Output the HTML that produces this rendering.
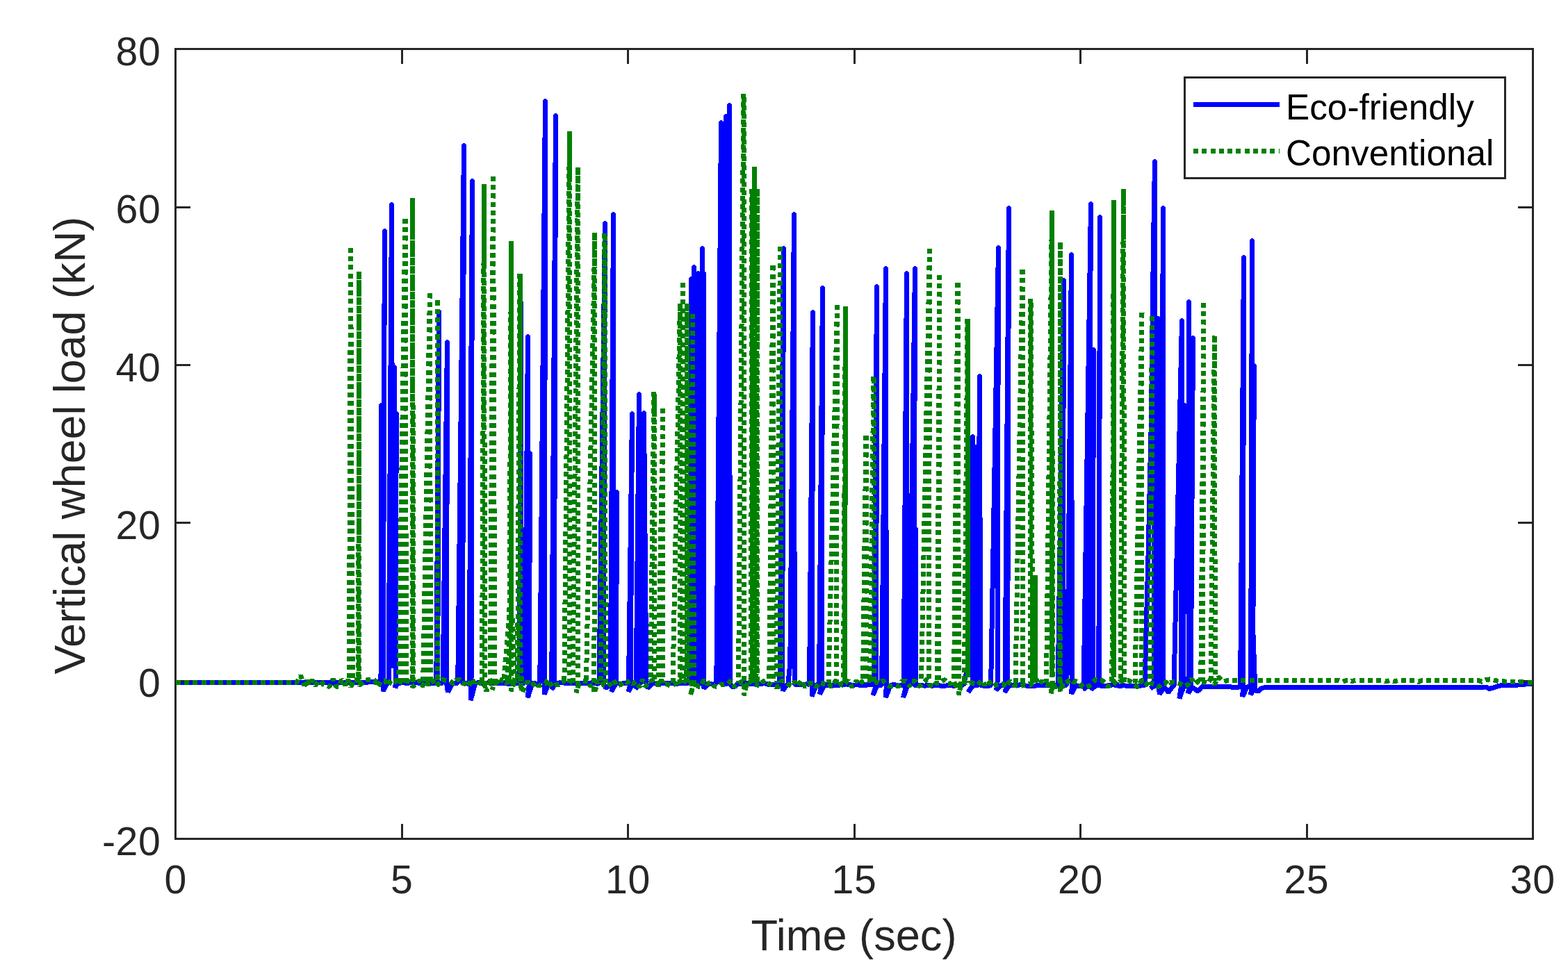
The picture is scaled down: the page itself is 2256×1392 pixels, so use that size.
<!DOCTYPE html>
<html lang="en"><head><meta charset="utf-8"><title>Vertical wheel load</title>
<style>html,body{margin:0;padding:0;background:#fff}body{width:2256px;height:1392px;overflow:hidden}svg{display:block}text{font-family:"Liberation Sans",sans-serif}.t{font-size:57.2px;letter-spacing:0.6px;fill:#262626}.l{font-size:63.2px;fill:#262626}.m{font-size:62.7px;fill:#262626}.g{font-size:51.3px;fill:#000}</style></head><body>
<svg width="2256" height="1392" viewBox="0 0 2256 1392">
<rect width="2256" height="1392" fill="#fff"/>
<defs><clipPath id="c"><rect x="251.4" y="69.2" width="1955.5" height="1139.7"/></clipPath></defs>
<g clip-path="url(#c)" shape-rendering="crispEdges" fill="none" stroke-width="7">
<path stroke="#0000ff" stroke-linejoin="bevel" stroke-linecap="butt" d="M252.9 982.0 L258.9 982.0 L264.3 982.0 L269.0 982.0 L275.6 982.0 L280.0 982.0 L286.1 982.0 L291.7 982.0 L296.1 982.0 L302.1 982.0 L306.4 982.0 L312.2 982.0 L316.6 982.0 L321.2 982.0 L326.9 982.0 L334.1 982.0 L338.7 982.0 L343.7 982.0 L350.2 982.0 L357.8 982.0 L364.1 982.0 L369.7 982.0 L377.4 982.0 L381.8 982.0 L389.1 982.0 L394.3 982.0 L399.0 982.0 L403.7 982.0 L409.0 982.0 L416.1 982.0 L421.0 982.0 L427.3 982.0 L433.8 982.0 L439.3 982.0 L445.5 982.0 L449.9 982.0 L454.3 982.0 L459.2 982.0 L465.9 982.0 L471.6 982.0 L477.0 982.0 L483.3 982.0 L489.1 982.0 L494.4 982.0 L501.4 982.0 L508.2 982.0 L513.2 982.0 L519.5 982.0 L525.6 982.8 L532.4 981.6 L540.2 981.2 L545.9 982.5 L548.0 982.1 L548.5 583.5 L549.0 982.1 L550.5 982.1 L553.5 332.5 L551.2 982.1 L551.2 995.1 L557.7 982.2 L555.5 985.0 L559.1 983.0 L563.5 294.0 L565.0 962.0 L567.0 528.5 L567.6 900.0 L570.2 595.5 L569.4 983.0 L568.5 990.0 L572.0 984.0 L578.0 982.6 L582.3 983.0 L589.3 983.0 L596.6 982.6 L603.3 983.2 L609.6 982.9 L616.9 983.9 L622.8 983.4 L627.8 983.1 L631.5 448.5 L629.7 983.1 L637.1 983.1 L643.5 492.5 L642.5 983.1 L644.3 996.1 L650.8 983.1 L656.8 983.5 L658.4 983.1 L659.1 953.1 L667.5 209.5 L665.5 983.2 L673.5 984.2 L675.0 983.2 L679.5 260.5 L678.0 983.2 L677.2 1008.2 L683.7 983.2 L689.7 982.8 L695.3 983.6 L699.6 983.2 L704.4 982.5 L708.8 983.8 L713.5 982.8 L719.1 984.0 L723.6 983.2 L729.7 984.1 L736.9 984.1 L742.1 983.2 L747.5 983.4 L749.5 435.5 L749.0 983.4 L755.0 983.4 L759.5 484.5 L758.5 983.4 L761.0 983.4 L762.5 652.5 L761.5 983.4 L759.3 1004.4 L765.8 983.4 L771.8 984.2 L776.5 983.4 L777.1 953.4 L784.5 145.5 L783.5 983.5 L783.0 999.5 L789.5 983.5 L793.7 983.5 L799.5 166.5 L797.3 983.5 L793.5 992.5 L800.0 983.5 L806.0 982.8 L810.8 983.0 L815.9 983.5 L822.2 983.1 L826.4 983.4 L831.9 983.7 L839.6 984.0 L845.6 983.8 L852.3 982.7 L859.7 984.2 L862.0 983.7 L870.5 321.5 L868.0 983.7 L871.7 990.7 L878.2 983.7 L878.3 983.7 L882.5 308.5 L882.0 983.7 L879.7 995.7 L886.2 983.7 L886.0 983.7 L887.5 708.5 L886.5 983.7 L893.5 984.3 L899.1 983.5 L904.5 983.8 L909.5 595.5 L907.3 983.8 L904.2 995.8 L910.7 983.8 L915.2 983.8 L919.5 567.5 L919.0 983.8 L914.0 991.8 L920.5 983.8 L922.0 983.8 L923.5 953.8 L926.5 594.5 L929.9 983.8 L932.0 990.8 L938.5 983.8 L944.5 984.1 L948.9 983.0 L953.9 983.2 L959.3 983.0 L963.5 983.2 L968.1 983.6 L972.4 984.7 L978.8 983.2 L983.9 983.7 L989.4 983.2 L991.5 984.0 L994.5 401.5 L994.0 984.0 L996.0 984.0 L998.5 384.5 L998.0 984.0 L1002.0 984.0 L1004.5 393.5 L1004.5 984.0 L1008.0 984.1 L1010.5 357.5 L1010.5 984.1 L1012.0 984.1 L1012.5 393.5 L1012.5 984.1 L1013.0 991.1 L1019.5 984.2 L1025.5 985.2 L1030.5 984.3 L1031.1 954.3 L1037.5 176.5 L1037.5 984.3 L1038.5 984.3 L1041.5 193.5 L1041.0 984.3 L1044.8 984.4 L1044.5 167.5 L1045.0 984.4 L1047.0 984.4 L1049.5 151.5 L1050.3 984.4 L1055.0 989.5 L1061.5 984.5 L1067.5 984.5 L1072.0 983.8 L1077.4 984.2 L1084.6 984.0 L1088.9 985.7 L1095.0 984.1 L1101.2 983.9 L1107.3 985.9 L1114.6 985.4 L1119.7 984.8 L1121.9 985.0 L1127.5 357.5 L1125.5 985.1 L1126.3 994.1 L1132.8 985.1 L1133.8 985.1 L1136.8 955.1 L1142.5 308.5 L1143.2 985.2 L1149.2 985.8 L1155.3 985.9 L1160.7 984.8 L1164.5 985.4 L1169.5 449.5 L1168.5 985.4 L1168.0 1002.4 L1174.5 985.5 L1178.5 985.5 L1183.5 414.5 L1182.2 985.5 L1179.5 999.5 L1186.0 985.6 L1192.0 986.6 L1199.3 986.3 L1206.4 986.2 L1211.4 985.8 L1216.9 984.9 L1221.2 985.4 L1226.3 986.2 L1234.0 985.8 L1241.6 986.9 L1249.2 985.7 L1254.2 985.5 L1257.5 986.0 L1261.5 412.5 L1260.7 986.1 L1255.8 1001.0 L1262.3 986.1 L1268.5 986.1 L1268.9 956.1 L1274.5 386.5 L1275.3 986.2 L1274.4 1004.1 L1280.9 986.2 L1286.9 985.6 L1293.3 987.1 L1300.1 986.3 L1304.5 393.5 L1304.0 986.3 L1299.5 1004.3 L1306.0 986.3 L1308.0 986.3 L1308.6 956.3 L1316.5 386.5 L1315.0 986.4 L1316.5 986.4 L1317.5 761.5 L1317.1 986.4 L1323.5 986.4 L1330.1 987.1 L1334.6 986.8 L1342.0 987.1 L1348.9 986.5 L1353.8 987.2 L1359.2 987.2 L1366.9 986.4 L1372.5 987.5 L1379.3 986.0 L1384.0 985.9 L1386.0 986.6 L1393.6 956.6 L1399.5 628.5 L1400.0 986.6 L1393.0 996.6 L1399.5 986.6 L1403.0 986.6 L1404.5 643.5 L1405.0 986.6 L1407.0 986.6 L1409.5 541.5 L1410.6 986.6 L1416.6 987.3 L1421.3 987.3 L1425.6 986.7 L1436.5 356.5 L1435.0 986.7 L1433.0 993.7 L1439.5 986.7 L1446.0 986.7 L1451.5 299.5 L1449.6 986.7 L1445.5 996.7 L1452.0 986.7 L1458.0 987.0 L1463.5 986.8 L1468.1 985.7 L1475.8 987.0 L1481.9 987.6 L1487.7 987.5 L1494.9 986.1 L1500.0 986.3 L1505.0 986.9 L1510.2 986.6 L1514.8 987.6 L1520.3 986.7 L1522.0 986.7 L1522.6 956.7 L1530.5 403.5 L1529.0 986.7 L1534.0 986.7 L1536.0 956.7 L1541.5 366.5 L1542.4 986.8 L1541.5 998.8 L1548.0 986.8 L1554.0 987.6 L1559.1 986.8 L1559.6 956.8 L1569.5 293.5 L1566.0 986.8 L1558.0 992.8 L1564.5 986.8 L1571.0 986.8 L1573.5 503.5 L1572.0 986.8 L1570.0 992.8 L1576.5 986.8 L1580.8 986.8 L1582.5 312.5 L1581.4 986.8 L1588.5 987.6 L1594.5 986.9 L1600.6 985.8 L1606.4 986.2 L1610.6 987.5 L1615.4 986.9 L1622.2 987.1 L1627.6 987.1 L1633.8 987.7 L1638.4 987.3 L1643.5 986.8 L1647.0 986.9 L1652.0 800.0 L1656.5 600.0 L1659.5 350.0 L1661.5 232.5 L1660.0 986.9 L1655.0 991.0 L1661.0 987.0 L1665.0 987.4 L1666.5 458.5 L1667.0 987.4 L1668.5 999.4 L1675.0 987.5 L1670.0 987.5 L1673.5 299.5 L1674.0 987.5 L1681.0 996.6 L1687.5 987.6 L1689.0 987.6 L1700.5 461.5 L1699.5 987.7 L1696.8 1005.7 L1703.3 987.8 L1702.0 987.8 L1704.5 583.5 L1702.5 987.8 L1710.0 987.8 L1710.5 434.5 L1710.5 987.8 L1709.7 997.8 L1716.2 987.9 L1713.0 987.9 L1716.5 486.5 L1713.3 987.9 L1723.4 995.0 L1729.9 988.0 L1735.9 988.1 L1742.1 988.7 L1749.6 988.1 L1756.0 988.3 L1762.1 988.7 L1767.9 988.4 L1773.8 989.4 L1780.5 989.4 L1784.6 988.7 L1789.5 370.5 L1788.4 988.8 L1787.7 1002.8 L1794.2 988.9 L1799.6 989.1 L1801.5 346.5 L1801.5 989.1 L1799.2 1000.1 L1805.7 989.2 L1802.5 900.0 L1804.3 526.5 L1802.6 988.0 L1809.4 996.0 L1815.0 990.5 L1822.0 989.3 L1825.0 989.3 L2100.0 989.3 L2138.0 989.0 L2143.0 991.5 L2150.0 989.5 L2160.0 986.5 L2185.0 986.0 L2195.0 985.0 L2203.0 984.2 L2205.4 984.0"/>
<path stroke="#0000ff" stroke-linecap="round" d="M548.5 583.5h0M553.5 332.5h0M631.5 448.5h0M643.5 492.5h0M667.5 209.5h0M679.5 260.5h0M749.5 435.5h0M759.5 484.5h0M762.5 652.5h0M784.5 145.5h0M799.5 166.5h0M870.5 321.5h0M882.5 308.5h0M887.5 708.5h0M909.5 595.5h0M919.5 567.5h0M926.5 594.5h0M994.5 401.5h0M998.5 384.5h0M1004.5 393.5h0M1010.5 357.5h0M1012.5 393.5h0M1037.5 176.5h0M1041.5 193.5h0M1044.5 167.5h0M1049.5 151.5h0M1127.5 357.5h0M1142.5 308.5h0M1169.5 449.5h0M1183.5 414.5h0M1261.5 412.5h0M1274.5 386.5h0M1304.5 393.5h0M1316.5 386.5h0M1317.5 761.5h0M1399.5 628.5h0M1404.5 643.5h0M1409.5 541.5h0M1436.5 356.5h0M1451.5 299.5h0M1530.5 403.5h0M1541.5 366.5h0M1569.5 293.5h0M1573.5 503.5h0M1582.5 312.5h0M1666.5 458.5h0M1673.5 299.5h0M1700.5 461.5h0M1704.5 583.5h0M1710.5 434.5h0M1716.5 486.5h0M1789.5 370.5h0M1801.5 346.5h0M563.5 294.5h0M567.5 528.5h0M570.5 595.5h0M1661.5 232.5h0M1804.5 526.5h0"/>
</g>
<g shape-rendering="crispEdges" stroke="#262626" stroke-width="3" fill="none">
<rect x="252.9" y="70.7" width="1952.5" height="1136.7"/>
<path d="M578.3 1207.4V1186.4M578.3 70.7V91.7M903.7 1207.4V1186.4M903.7 70.7V91.7M1229.2 1207.4V1186.4M1229.2 70.7V91.7M1554.6 1207.4V1186.4M1554.6 70.7V91.7M1880.0 1207.4V1186.4M1880.0 70.7V91.7M252.9 980.1H273.9M2205.4 980.1H2184.4M252.9 752.7H273.9M2205.4 752.7H2184.4M252.9 525.4H273.9M2205.4 525.4H2184.4M252.9 298.0H273.9M2205.4 298.0H2184.4"/>
</g>
<g clip-path="url(#c)" shape-rendering="crispEdges" fill="none" stroke-width="7">
<path stroke="#008000" stroke-linejoin="bevel" stroke-linecap="butt" stroke-dasharray="7 5.25" d="M252.9 982.0 L257.4 982.0 L261.8 982.0 L266.4 982.0 L272.1 982.0 L276.5 982.0 L281.0 982.0 L285.7 982.0 L289.4 982.0 L293.9 982.0 L298.8 982.0 L304.1 982.0 L307.5 982.0 L311.4 982.0 L314.8 982.0 L320.2 982.0 L325.2 982.0 L328.5 982.0 L334.3 982.0 L340.0 982.0 L344.9 982.0 L349.7 982.0 L353.3 982.0 L356.5 982.0 L361.1 982.0 L364.4 982.0 L368.1 982.0 L371.9 982.0 L375.1 982.0 L379.5 982.0 L383.8 982.0 L389.3 982.0 L393.8 982.0 L398.7 982.0 L403.2 982.0 L408.1 982.0 L412.5 982.0 L416.4 982.0 L422.3 982.0 L427.0 982.0 L430.0 977.0 L432.5 972.5 L435.5 981.0 L438.0 987.0 L441.5 980.0 L445.0 986.5 L449.0 979.0 L453.5 986.7 L458.6 980.5 L462.3 980.3 L465.7 986.1 L469.9 987.2 L474.1 988.5 L479.5 977.0 L483.2 987.9 L487.7 988.8 L491.9 977.9 L496.7 986.4 L500.6 978.1 L504.7 988.6 L509.9 978.4 L513.7 978.2 L517.0 986.6 L520.6 983.7 L525.0 979.3 L530.1 978.6 L535.0 978.4 L539.3 979.6 L543.2 988.7 L548.5 980.7 L554.0 979.6 L558.2 987.3 L563.1 978.2 L568.9 979.6 L572.8 986.3 L576.8 980.6 L580.2 978.1 L584.9 980.0 L589.7 981.5 L594.0 988.6 L598.5 983.9 L604.0 979.3 L607.6 988.0 L612.9 980.1 L616.6 985.9 L622.3 979.4 L628.0 987.7 L632.8 982.1 L636.2 977.5 L641.9 979.9 L647.0 980.2 L652.4 984.2 L656.3 979.2 L661.4 977.9 L665.2 983.8 L670.6 984.5 L674.5 988.1 L678.2 977.3 L682.1 982.4 L685.4 979.2 L689.6 984.0 L693.1 981.4 L698.6 988.9 L703.5 985.4 L708.3 978.8 L711.5 977.3 L717.1 985.5 L722.9 977.4 L727.7 982.9 L732.9 980.9 L738.7 978.0 L743.3 986.0 L748.9 986.0 L754.0 986.6 L759.6 981.3 L764.6 987.9 L770.1 982.1 L775.4 987.5 L780.1 984.6 L784.3 984.1 L789.0 978.1 L793.9 989.1 L799.4 985.9 L803.6 986.0 L808.4 982.4 L813.8 978.2 L819.0 977.5 L823.7 982.9 L827.5 985.5 L832.0 984.5 L837.6 980.2 L840.8 980.8 L845.8 979.6 L849.4 988.0 L854.3 982.5 L859.9 981.1 L864.8 979.5 L869.1 986.8 L874.8 987.7 L879.0 984.2 L883.0 978.8 L887.4 987.2 L892.9 985.7 L898.6 980.5 L902.2 982.6 L906.1 979.8 L910.4 984.7 L914.9 981.0 L920.3 989.0 L924.6 978.1 L927.9 987.7 L931.1 985.7 L935.8 980.9 L941.1 977.4 L944.6 982.7 L947.9 987.2 L951.6 978.9 L954.9 984.8 L959.3 984.8 L964.2 986.9 L969.9 985.4 L973.6 982.9 L977.3 977.3 L981.7 985.8 L985.3 980.5 L989.4 985.6 L994.0 984.6 L999.1 981.9 L1004.4 988.1 L1007.8 988.4 L1012.9 978.8 L1017.3 984.7 L1022.9 981.8 L1027.6 987.8 L1032.9 988.6 L1037.3 985.1 L1041.0 985.9 L1046.3 984.9 L1051.4 979.8 L1057.0 989.0 L1062.8 983.7 L1068.1 981.1 L1073.7 987.5 L1077.8 978.3 L1082.1 983.9 L1087.4 983.1 L1090.6 987.0 L1093.9 986.9 L1097.5 981.3 L1102.8 979.0 L1106.3 983.5 L1111.5 987.4 L1116.5 988.6 L1120.9 988.7 L1124.3 979.9 L1128.9 980.8 L1134.0 984.9 L1138.6 987.4 L1143.2 981.0 L1147.4 987.4 L1153.0 979.8 L1158.4 988.9 L1163.0 984.2 L1166.7 983.7 L1171.2 984.6 L1174.4 988.9 L1179.0 982.1 L1184.3 984.1 L1188.8 985.6 L1192.1 983.8 L1196.4 988.8 L1202.0 980.5 L1206.4 978.8 L1210.8 987.1 L1216.3 983.0 L1220.3 979.6 L1225.2 988.4 L1228.7 986.7 L1231.9 979.7 L1235.6 985.6 L1239.7 981.6 L1244.5 978.6 L1249.6 978.8 L1254.1 980.3 L1257.8 983.7 L1262.1 981.8 L1266.4 983.7 L1270.0 979.8 L1274.8 985.0 L1279.4 987.6 L1284.2 987.6 L1288.0 986.2 L1293.3 988.2 L1297.3 981.1 L1303.0 980.0 L1308.8 988.0 L1312.3 980.2 L1317.5 980.5 L1320.9 987.3 L1325.2 986.8 L1328.7 982.2 L1333.7 977.6 L1337.3 985.6 L1343.0 989.0 L1346.4 983.4 L1351.6 983.4 L1356.6 979.6 L1360.0 978.7 L1363.2 984.0 L1367.7 984.2 L1371.3 979.6 L1375.0 987.5 L1380.8 988.5 L1384.2 978.1 L1389.9 982.9 L1395.2 981.3 L1399.6 983.6 L1403.9 984.6 L1407.1 985.8 L1412.5 979.6 L1416.9 986.3 L1421.1 979.7 L1424.7 983.6 L1427.9 988.1 L1433.2 985.9 L1438.7 985.0 L1442.9 984.6 L1447.4 989.2 L1452.8 980.5 L1458.4 986.4 L1463.6 987.2 L1467.9 988.2 L1473.4 985.8 L1478.6 986.6 L1482.9 986.1 L1486.2 981.5 L1490.6 977.6 L1494.7 985.1 L1499.6 980.2 L1505.3 985.4 L1509.3 985.4 L1514.0 983.8 L1518.2 989.4 L1523.1 985.9 L1528.3 989.2 L1531.5 984.8 L1536.7 980.5 L1540.9 978.1 L1544.6 982.0 L1548.0 980.5 L1553.6 984.1 L1558.1 989.1 L1562.8 989.4 L1567.7 987.2 L1571.0 984.6 L1576.2 978.0 L1581.9 979.4 L1586.3 979.5 L1590.8 984.8 L1594.1 988.8 L1598.4 983.8 L1603.2 981.9 L1607.1 985.3 L1611.7 980.9 L1616.8 981.0 L1620.0 980.4 L1623.3 979.4 L1628.5 982.2 L1634.0 986.5 L1637.3 989.4 L1643.0 978.4 L1648.6 982.7 L1653.1 989.1 L1656.9 983.6 L1662.5 985.8 L1667.0 988.8 L1672.3 984.1 L1675.8 984.3 L1680.2 979.1 L1683.4 982.9 L1686.9 981.8 L1691.9 981.8 L1695.7 983.2 L1700.0 985.4 L1704.6 987.9 L1710.3 984.6 L1714.1 977.0 L1719.7 984.9 L1724.5 979.6 L1728.4 983.4 L1733.1 982.0 L1737.9 983.8 L1741.6 977.6 L1747.4 985.3 L1752.9 974.6 L1756.2 977.2 L1760.5 981.3 L1764.0 980.1 L1767.3 979.5 L1771.0 979.3 L1926.0 979.3 L1932.0 981.2 L1938.0 979.0 L1944.0 980.8 L1950.0 979.3 L1988.0 979.3 L1994.0 981.0 L2000.0 979.3 L2006.0 980.8 L2012.0 979.3 L2036.0 979.3 L2041.0 981.5 L2046.0 979.3 L2126.0 979.3 L2132.0 981.3 L2139.0 978.2 L2146.0 977.8 L2153.0 980.0 L2165.0 981.0 L2185.0 981.6 L2195.0 982.0 L2205.4 982.3"/>
<path stroke="#008000" stroke-linejoin="bevel" stroke-linecap="butt" stroke-dasharray="7 5.25" d="M504.5 357.0L502.4 983.0M504.5 357.0L507.3 983.0M517.0 391.0L515.5 983.0M517.0 395.4L516.5 983.0M583.0 315.0L573.7 983.0M583.0 315.0L579.1 983.0M583.0 315.0L584.5 983.0M593.5 285.0L593.7 983.1M593.5 289.4L594.7 983.1M618.5 422.5L608.7 983.1M618.5 422.5L614.1 983.1M618.5 422.5L619.5 983.1M629.0 432.5L629.0 983.1M629.0 432.5L629.8 983.1M696.5 265.0L693.5 983.1M696.5 269.4L697.5 983.1L700.0 995.1L704.5 983.1M709.5 254.0L705.5 983.1M709.5 254.0L711.8 983.1L708.0 993.1L712.5 983.1M735.5 347.0L732.5 983.1M735.5 353.1L735.5 983.1L735.0 995.1L739.5 983.1M748.0 394.0L744.5 983.1M748.0 398.4L748.0 983.1L752.0 997.1L756.5 983.1M819.5 189.0L811.9 983.1M819.5 193.4L819.0 983.1M831.5 241.0L824.0 983.1M831.5 245.0L831.9 983.2L829.0 997.2L833.5 983.2M856.0 335.0L843.4 983.2M856.0 339.4L854.9 983.2L855.0 998.2L859.5 983.2M870.0 336.0L864.5 983.2M870.0 340.4L871.3 983.2M941.0 564.0L936.0 983.2M941.0 567.0L942.0 983.2M954.0 588.0L947.0 983.2M954.0 588.0L953.0 983.2M978.5 437.0L968.0 983.2M978.5 441.4L979.0 983.2M982.5 407.0L981.0 983.2M982.5 407.0L984.0 983.2M988.5 437.0L988.0 983.2M988.5 441.4L989.5 983.2M996.5 452.0L994.0 983.2M996.5 452.0L998.5 983.2L993.3 1001.2L997.8 983.2M1070.0 135.0L1062.4 983.3M1070.0 139.6L1070.9 983.3L1070.0 1001.3L1074.5 983.3M1082.0 272.0L1080.5 983.3M1082.0 278.1L1083.0 983.3M1085.5 240.0L1084.0 983.3M1085.5 244.6L1086.0 983.3M1089.5 272.0L1088.0 983.3M1089.5 276.0L1089.6 983.3M1112.0 382.5L1106.8 983.3M1112.0 382.5L1113.0 983.3M1122.5 355.0L1117.0 983.3M1122.5 355.0L1123.7 983.3M1204.5 439.0L1192.0 983.3M1204.5 439.0L1203.0 983.3M1216.5 441.0L1213.5 983.3M1216.5 447.1L1215.5 983.3M1246.0 627.0L1241.5 983.3M1246.0 627.0L1247.0 983.3M1257.0 542.5L1251.5 983.3M1257.0 545.5L1258.0 983.3M1337.5 358.0L1325.5 983.4M1337.5 358.0L1336.5 983.4M1352.0 396.0L1348.5 983.4M1352.0 396.0L1350.3 983.4M1378.0 407.0L1372.5 983.4M1378.0 407.0L1379.5 983.4L1379.0 1000.4L1383.5 983.4M1392.0 459.0L1387.5 983.4M1392.0 465.1L1392.9 983.4M1471.0 388.0L1461.0 983.4M1471.0 388.0L1471.0 983.4M1483.0 430.0L1482.3 983.4M1483.0 436.1L1486.0 983.4M1489.0 828.0L1488.0 983.4M1489.0 834.1L1489.5 983.4M1513.5 303.0L1505.5 983.4M1513.5 306.0L1514.5 983.4L1512.0 998.4L1516.5 983.4M1526.0 349.0L1524.2 983.4M1526.0 352.0L1525.0 983.4L1525.0 995.4L1529.5 983.4M1602.5 288.0L1599.9 983.5M1602.5 291.0L1601.7 983.5M1616.5 272.0L1612.0 983.5M1616.5 276.8L1617.7 983.5M1643.0 450.5L1633.0 983.5M1643.0 450.5L1642.5 983.5M1657.5 455.5L1654.0 983.4M1657.5 455.5L1656.5 983.3M1732.0 436.0L1727.8 981.2M1732.0 436.0L1730.5 981.1M1747.5 483.5L1742.0 980.6M1747.5 486.5L1748.3 980.3M733.0 885.0 L724.5 981.0M735.0 900.0 L729.5 981.0M737.5 890.0 L740.5 981.0M745.0 900.0 L750.5 981.0"/>
<path stroke="#008000" stroke-linecap="butt" d="M593.5 285.0L593.8 335.0M696.5 265.0L696.8 380.0M735.5 347.0L735.8 900.0M748.0 394.0L748.4 640.0M819.5 189.0L819.4 262.0M941.0 564.0L941.2 600.0M1083.5 272.0L1083.5 460.0M1216.5 441.0L1215.6 975.0M1392.0 459.0L1392.7 975.0M1489.0 828.0L1489.3 975.0M1513.5 303.0L1513.8 975.0M1602.5 288.0L1602.2 975.0"/>
</g>
<g shape-rendering="crispEdges">
<rect x="1704.5" y="111.5" width="460.8" height="145" fill="#fff" stroke="#262626" stroke-width="3"/>
<path d="M1717 150.5H1841" stroke="#0000ff" stroke-width="7" fill="none"/>
<path d="M1717 217.5H1841" stroke="#008000" stroke-width="7" stroke-dasharray="7 5.25" fill="none"/>
</g>
<text class="g" x="1850" y="171.5">Eco-friendly</text>
<text class="g" x="1850" y="237.5">Conventional</text>
<text class="t" x="252.7" y="1286" text-anchor="middle">0</text>
<text class="t" x="578.1" y="1286" text-anchor="middle">5</text>
<text class="t" x="903.5" y="1286" text-anchor="middle">10</text>
<text class="t" x="1229.0" y="1286" text-anchor="middle">15</text>
<text class="t" x="1554.4" y="1286" text-anchor="middle">20</text>
<text class="t" x="1879.8" y="1286" text-anchor="middle">25</text>
<text class="t" x="2205.2" y="1286" text-anchor="middle">30</text>
<text class="t" x="231.4" y="1230.6" text-anchor="end">-20</text>
<text class="t" x="231.4" y="1003.3" text-anchor="end">0</text>
<text class="t" x="231.4" y="775.9" text-anchor="end">20</text>
<text class="t" x="231.4" y="548.6" text-anchor="end">40</text>
<text class="t" x="231.4" y="321.2" text-anchor="end">60</text>
<text class="t" x="231.4" y="93.9" text-anchor="end">80</text>
<text class="l" x="1228.5" y="1368" text-anchor="middle">Time (sec)</text>
<text class="m" transform="translate(121.5 641.2) rotate(-90)" text-anchor="middle">Vertical wheel load (kN)</text>
</svg></body></html>
